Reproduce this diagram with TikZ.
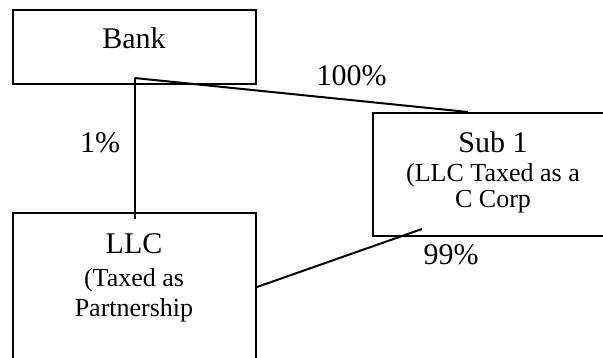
\documentclass[tikz,border=0pt]{standalone}
\usepackage{fontspec}
\setmainfont{Liberation Serif}
\begin{document}
\begin{tikzpicture}[x=1pt, y=-1pt]
      \tikzstyle{box}=[draw, line width=2pt, inner sep=0pt]
      \tikzstyle{link}=[line width=2pt]
      \tikzstyle{big}=[anchor=base, inner sep=0pt, font=\fontsize{30}{33}\selectfont]
      \tikzstyle{small}=[anchor=base, inner sep=0pt, font=\fontsize{26}{30}\selectfont]
      \clip (0,0) rectangle (603,358);
      % boxes
      \node[box, minimum width=243pt, minimum height=74pt]  (bank) at (134.5,47)  {};
      \node[box, minimum width=243pt, minimum height=148pt] (llc)  at (134.5,287) {};
      \node[box, minimum width=240pt, minimum height=123pt] (sub)  at (493,174.5) {};
      % texts
      \node[big]   (banktxt) at (134,49)  {Bank};
      \node[big]   (subtxt)  at (493,153) {Sub 1};
      \node[small] (subnote) at (493,182) {(LLC Taxed as a};
      \node[small] (subform) at (493,208) {C Corp};
      \node[big]   (llctxt)  at (134,254) {LLC};
      \node[small] (llcnote) at (134,287) {(Taxed as};
      \node[small] (llcform) at (134,317) {Partnership};
      % ownership
      \node[big] (pbank) at (100,153)   {1\%};
      \node[big] (psub)  at (351.5,86)  {100\%};
      \node[big] (pllc)  at (451,265)   {99\%};
      \draw[link] ([yshift=7pt]bank.south) -- ([yshift=-7pt]llc.north);
      \draw[link] ([yshift=7pt]bank.south) -- ([xshift=-25pt]sub.north);
      \draw[link] (llc.east) -- ([xshift=-71pt, yshift=8pt]sub.south);
    \end{tikzpicture}
\end{document}
